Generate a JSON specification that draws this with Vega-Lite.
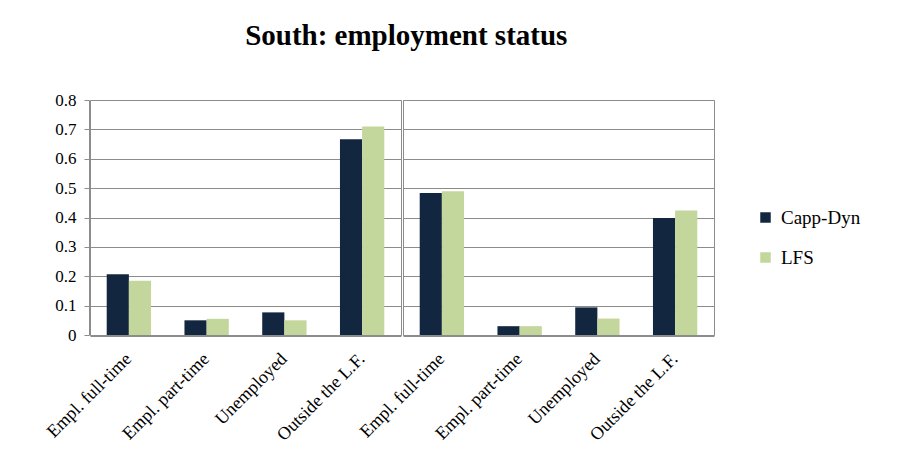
{
  "$schema": "https://vega.github.io/schema/vega-lite/v6.json",
  "background": "white",
  "padding": {"left": 43, "top": 22, "right": 5, "bottom": 5},
  "title": {
    "text": "South: employment status",
    "font": "Liberation Serif",
    "fontSize": 29,
    "fontWeight": "bold",
    "color": "#000000",
    "anchor": "middle",
    "frame": "bounds",
    "dx": -46,
    "offset": 40
  },
  "data": {
    "values": [
      {"panel": "1", "status": "Empl. full-time", "source": "Capp-Dyn", "share": 0.207},
      {"panel": "1", "status": "Empl. full-time", "source": "LFS", "share": 0.185},
      {"panel": "1", "status": "Empl. part-time", "source": "Capp-Dyn", "share": 0.050},
      {"panel": "1", "status": "Empl. part-time", "source": "LFS", "share": 0.055},
      {"panel": "1", "status": "Unemployed", "source": "Capp-Dyn", "share": 0.077},
      {"panel": "1", "status": "Unemployed", "source": "LFS", "share": 0.050},
      {"panel": "1", "status": "Outside the L.F.", "source": "Capp-Dyn", "share": 0.666},
      {"panel": "1", "status": "Outside the L.F.", "source": "LFS", "share": 0.710},
      {"panel": "2", "status": "Empl. full-time", "source": "Capp-Dyn", "share": 0.483},
      {"panel": "2", "status": "Empl. full-time", "source": "LFS", "share": 0.489},
      {"panel": "2", "status": "Empl. part-time", "source": "Capp-Dyn", "share": 0.030},
      {"panel": "2", "status": "Empl. part-time", "source": "LFS", "share": 0.030},
      {"panel": "2", "status": "Unemployed", "source": "Capp-Dyn", "share": 0.094},
      {"panel": "2", "status": "Unemployed", "source": "LFS", "share": 0.056},
      {"panel": "2", "status": "Outside the L.F.", "source": "Capp-Dyn", "share": 0.398},
      {"panel": "2", "status": "Outside the L.F.", "source": "LFS", "share": 0.424}
    ]
  },
  "facet": {
    "column": {"field": "panel", "type": "nominal", "header": {"labels": false, "title": null}}
  },
  "spacing": 0,
  "spec": {
    "width": 311,
    "height": 235,
    "mark": {"type": "bar"},
    "encoding": {
      "x": {
        "field": "status",
        "type": "nominal",
        "sort": ["Empl. full-time", "Empl. part-time", "Unemployed", "Outside the L.F."],
        "scale": {"paddingInner": 0.43, "paddingOuter": 0.215},
        "axis": {
          "title": null,
          "grid": false,
          "labelAngle": -45,
          "labelAlign": "right",
          "labelBaseline": "middle",
          "ticks": false,
          "labelPadding": 20,
          "labelDx": 4,
          "labelFont": "Liberation Serif",
          "labelFontSize": 18,
          "labelColor": "#000000",
          "domainColor": "#8c8c8c"
        }
      },
      "xOffset": {"field": "source", "sort": ["Capp-Dyn", "LFS"]},
      "y": {
        "field": "share",
        "type": "quantitative",
        "scale": {"domain": [0, 0.8], "nice": false},
        "axis": {
          "title": null,
          "grid": true,
          "values": [0, 0.1, 0.2, 0.3, 0.4, 0.5, 0.6, 0.7, 0.8],
          "format": ".1~f",
          "labelFont": "Liberation Serif",
          "labelFontSize": 17,
          "labelColor": "#000000",
          "labelPadding": 8,
          "tickSize": 5,
          "tickColor": "#8c8c8c",
          "domainColor": "#8c8c8c",
          "gridColor": "#8c8c8c",
          "gridOpacity": 1
        }
      },
      "color": {
        "field": "source",
        "type": "nominal",
        "sort": ["Capp-Dyn", "LFS"],
        "scale": {"domain": ["Capp-Dyn", "LFS"], "range": ["#13263f", "#c3d69b"]},
        "legend": {
          "title": null,
          "orient": "none",
          "legendX": 666,
          "legendY": 108,
          "symbolType": "square",
          "symbolSize": 110,
          "symbolStrokeWidth": 0,
          "labelFont": "Liberation Serif",
          "labelFontSize": 19,
          "labelColor": "#000000",
          "labelOffset": 6,
          "rowPadding": 20
        }
      }
    }
  },
  "config": {
    "view": {"stroke": "#8c8c8c", "strokeWidth": 1}
  }
}
